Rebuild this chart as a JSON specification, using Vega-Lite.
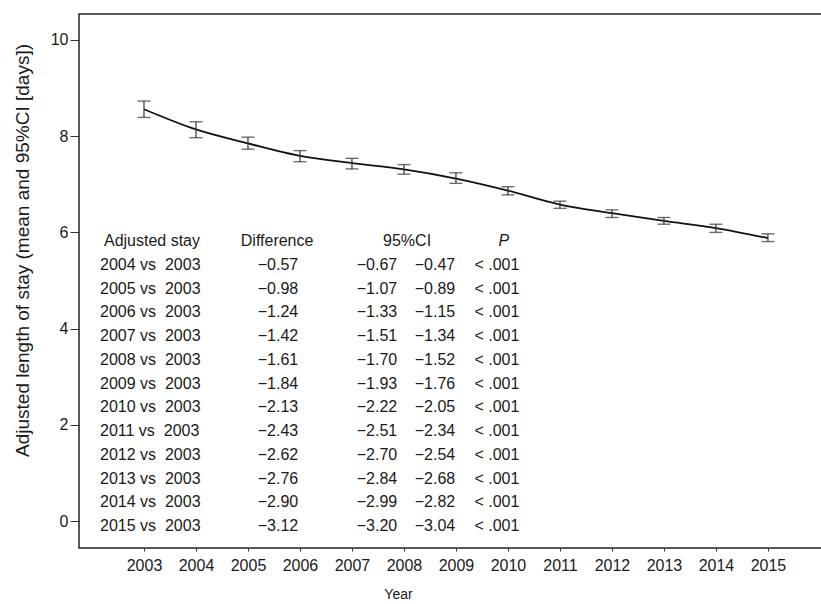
{
  "$schema": "https://vega.github.io/schema/vega-lite/v6.json",
  "width": 743,
  "height": 534,
  "autosize": "none",
  "padding": {"left": 79, "top": 14, "right": 0, "bottom": 56},
  "background": "white",
  "config": {
    "font": "Liberation Sans",
    "view": {"stroke": "#222", "strokeWidth": 1.5},
    "axis": {"grid": false, "domain": false, "labelColor": "#1a1a1a", "titleColor": "#1a1a1a", "tickColor": "#333", "labelFont": "Liberation Sans", "titleFont": "Liberation Sans", "titleFontWeight": "normal"}
  },
  "datasets": {
    "series": [
      {"year": 2003, "mean": 8.56, "lo": 8.39, "hi": 8.73},
      {"year": 2004, "mean": 8.14, "lo": 7.97, "hi": 8.30},
      {"year": 2005, "mean": 7.85, "lo": 7.73, "hi": 7.98},
      {"year": 2006, "mean": 7.59, "lo": 7.47, "hi": 7.70},
      {"year": 2007, "mean": 7.44, "lo": 7.32, "hi": 7.54},
      {"year": 2008, "mean": 7.31, "lo": 7.21, "hi": 7.41},
      {"year": 2009, "mean": 7.12, "lo": 7.02, "hi": 7.24},
      {"year": 2010, "mean": 6.87, "lo": 6.78, "hi": 6.95},
      {"year": 2011, "mean": 6.58, "lo": 6.50, "hi": 6.65},
      {"year": 2012, "mean": 6.40, "lo": 6.31, "hi": 6.47},
      {"year": 2013, "mean": 6.24, "lo": 6.17, "hi": 6.31},
      {"year": 2014, "mean": 6.09, "lo": 6.00, "hi": 6.17},
      {"year": 2015, "mean": 5.88, "lo": 5.81, "hi": 5.97}
    ],
    "header": [
      {"row": "header", "c1": "Adjusted stay", "c2": "Difference", "c3": "95%CI", "c4": "P"}
    ],
    "table": [
      {"row": "2004 vs\u00a0 2003", "diff": "−0.57", "lo": "−0.67", "hi": "−0.47", "p": "< .001"},
      {"row": "2005 vs\u00a0 2003", "diff": "−0.98", "lo": "−1.07", "hi": "−0.89", "p": "< .001"},
      {"row": "2006 vs\u00a0 2003", "diff": "−1.24", "lo": "−1.33", "hi": "−1.15", "p": "< .001"},
      {"row": "2007 vs\u00a0 2003", "diff": "−1.42", "lo": "−1.51", "hi": "−1.34", "p": "< .001"},
      {"row": "2008 vs\u00a0 2003", "diff": "−1.61", "lo": "−1.70", "hi": "−1.52", "p": "< .001"},
      {"row": "2009 vs\u00a0 2003", "diff": "−1.84", "lo": "−1.93", "hi": "−1.76", "p": "< .001"},
      {"row": "2010 vs\u00a0 2003", "diff": "−2.13", "lo": "−2.22", "hi": "−2.05", "p": "< .001"},
      {"row": "2011 vs\u00a0 2003", "diff": "−2.43", "lo": "−2.51", "hi": "−2.34", "p": "< .001"},
      {"row": "2012 vs\u00a0 2003", "diff": "−2.62", "lo": "−2.70", "hi": "−2.54", "p": "< .001"},
      {"row": "2013 vs\u00a0 2003", "diff": "−2.76", "lo": "−2.84", "hi": "−2.68", "p": "< .001"},
      {"row": "2014 vs\u00a0 2003", "diff": "−2.90", "lo": "−2.99", "hi": "−2.82", "p": "< .001"},
      {"row": "2015 vs\u00a0 2003", "diff": "−3.12", "lo": "−3.20", "hi": "−3.04", "p": "< .001"}
    ]
  },
  "layer": [
    {
      "data": {"name": "series"},
      "encoding": {
        "x": {
          "field": "year", "type": "quantitative",
          "scale": {"domain": [2001.75, 2016.04], "nice": false, "zero": false},
          "axis": {
            "values": [2003, 2004, 2005, 2006, 2007, 2008, 2009, 2010, 2011, 2012, 2013, 2014, 2015],
            "format": "d", "tickSize": 3, "labelPadding": 6, "labelFontSize": 16,
            "title": "Year", "titleFontSize": 14, "titleX": 319, "titleY": 46,
            "titleAlign": "center", "titleBaseline": "middle", "titleAnchor": null
          }
        }
      },
      "layer": [
        {
          "mark": {"type": "line", "color": "#111", "strokeWidth": 1.8, "interpolate": "monotone"},
          "encoding": {
            "y": {
              "field": "mean", "type": "quantitative",
              "scale": {"domain": [-0.56, 10.54], "nice": false, "zero": false},
              "axis": {
                "values": [0, 2, 4, 6, 8, 10], "tickSize": 9, "labelPadding": 2, "labelFontSize": 16,
                "title": "Adjusted length of stay (mean and 95%CI [days])", "titleFontSize": 19,
                "titleAngle": 270, "titleX": -57, "titleY": 236, "titleAlign": "center", "titleBaseline": "middle", "titleAnchor": null
              }
            }
          }
        },
        {
          "mark": {"type": "rule", "color": "#333", "strokeWidth": 1.2},
          "encoding": {
            "y": {"field": "lo", "type": "quantitative"},
            "y2": {"field": "hi"}
          }
        },
        {
          "mark": {"type": "tick", "orient": "horizontal", "size": 13, "thickness": 1.4, "color": "#333"},
          "encoding": {"y": {"field": "lo", "type": "quantitative"}}
        },
        {
          "mark": {"type": "tick", "orient": "horizontal", "size": 13, "thickness": 1.4, "color": "#333"},
          "encoding": {"y": {"field": "hi", "type": "quantitative"}}
        }
      ]
    },
    {
      "encoding": {
        "y": {
          "field": "row", "type": "nominal",
          "scale": {
            "type": "point",
            "domain": ["header", "2004 vs\u00a0 2003", "2005 vs\u00a0 2003", "2006 vs\u00a0 2003", "2007 vs\u00a0 2003", "2008 vs\u00a0 2003", "2009 vs\u00a0 2003", "2010 vs\u00a0 2003", "2011 vs\u00a0 2003", "2012 vs\u00a0 2003", "2013 vs\u00a0 2003", "2014 vs\u00a0 2003", "2015 vs\u00a0 2003"],
            "range": [227, 512], "padding": 0
          },
          "axis": null
        }
      },
      "layer": [
        {
          "data": {"name": "header"},
          "mark": {"type": "text", "fontSize": 16, "align": "left", "baseline": "middle", "color": "#1a1a1a"},
          "encoding": {"x": {"datum": 2002.23, "type": "quantitative"}, "text": {"field": "c1"}}
        },
        {
          "data": {"name": "header"},
          "mark": {"type": "text", "fontSize": 16, "align": "center", "baseline": "middle", "color": "#1a1a1a"},
          "encoding": {"x": {"datum": 2005.56, "type": "quantitative"}, "text": {"field": "c2"}}
        },
        {
          "data": {"name": "header"},
          "mark": {"type": "text", "fontSize": 16, "align": "center", "baseline": "middle", "color": "#1a1a1a"},
          "encoding": {"x": {"datum": 2008.06, "type": "quantitative"}, "text": {"field": "c3"}}
        },
        {
          "data": {"name": "header"},
          "mark": {"type": "text", "fontSize": 16, "fontStyle": "italic", "align": "center", "baseline": "middle", "color": "#1a1a1a"},
          "encoding": {"x": {"datum": 2009.92, "type": "quantitative"}, "text": {"field": "c4"}}
        },
        {
          "data": {"name": "table"},
          "mark": {"type": "text", "fontSize": 16, "align": "left", "baseline": "middle", "color": "#1a1a1a"},
          "encoding": {"x": {"datum": 2002.154, "type": "quantitative"}, "text": {"field": "row"}}
        },
        {
          "data": {"name": "table"},
          "mark": {"type": "text", "fontSize": 16, "align": "center", "baseline": "middle", "color": "#1a1a1a"},
          "encoding": {"x": {"datum": 2005.577, "type": "quantitative"}, "text": {"field": "diff"}}
        },
        {
          "data": {"name": "table"},
          "mark": {"type": "text", "fontSize": 16, "align": "center", "baseline": "middle", "color": "#1a1a1a"},
          "encoding": {"x": {"datum": 2007.481, "type": "quantitative"}, "text": {"field": "lo"}}
        },
        {
          "data": {"name": "table"},
          "mark": {"type": "text", "fontSize": 16, "align": "center", "baseline": "middle", "color": "#1a1a1a"},
          "encoding": {"x": {"datum": 2008.596, "type": "quantitative"}, "text": {"field": "hi"}}
        },
        {
          "data": {"name": "table"},
          "mark": {"type": "text", "fontSize": 16, "align": "center", "baseline": "middle", "color": "#1a1a1a"},
          "encoding": {"x": {"datum": 2009.788, "type": "quantitative"}, "text": {"field": "p"}}
        }
      ]
    }
  ],
  "resolve": {"scale": {"y": "independent"}, "axis": {"y": "independent"}}
}
